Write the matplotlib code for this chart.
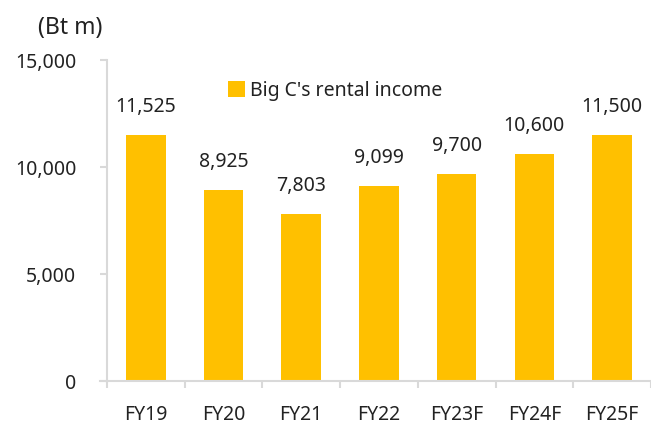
import matplotlib
matplotlib.use("Agg")
from matplotlib import pyplot as plt

categories = ["FY19", "FY20", "FY21", "FY22", "FY23F", "FY24F", "FY25F"]
rental_income = [11525, 8925, 7803, 9099, 9700, 10600, 11500]
value_labels = ["11,525", "8,925", "7,803", "9,099", "9,700", "10,600", "11,500"]
y_ticks = [0, 5000, 10000, 15000]
y_tick_labels = ["0", "5,000", "10,000", "15,000"]

plt.rcParams['font.family'] = ['Noto Sans', 'DejaVu Sans']

bar_color = "#FFC000"
axis_color = "#d9d9d9"
text_color = "#222222"
fs = 14

fig = plt.figure(figsize=(6.51, 4.24), dpi=100)
ax = fig.add_axes([0.1536, 0.101, 0.8464, 0.757])

x = list(range(len(categories)))
ax.bar(x, rental_income, width=0.51, color=bar_color, label="Big C's rental income", zorder=2)

for xi, v, lab in zip(x, rental_income, value_labels):
    ax.annotate(lab, (xi, v), xytext=(0, 13), textcoords="offset points",
                ha="center", va="bottom", fontsize=fs, color=text_color)

ax.set_ylim(0, 15000)
ax.set_xlim(-0.588, 6.36)
ax.set_yticks(y_ticks)
ax.set_yticklabels(y_tick_labels)

# x ticks sit on category boundaries, labels at centres
ax.set_xticks([i - 0.5 for i in range(len(categories) + 1)])
ax.set_xticklabels([])
ax.set_xticks(x, minor=True)
ax.set_xticklabels(categories, minor=True)

for s in ["top", "right"]:
    ax.spines[s].set_visible(False)
ax.spines["left"].set_position(("data", -0.5))
ax.spines["left"].set_color(axis_color)
ax.spines["bottom"].set_color(axis_color)
ax.spines["left"].set_linewidth(1.5)
ax.spines["bottom"].set_linewidth(1.5)

ax.tick_params(axis="y", direction="out", length=5, width=1.5, color=axis_color,
               labelsize=fs, labelcolor=text_color, pad=17)
ax.tick_params(axis="x", which="major", direction="out", length=5, width=1.5, color=axis_color)
ax.tick_params(axis="x", which="minor", length=0, labelsize=fs, labelcolor=text_color, pad=17)

fig.text(0.058, 0.934, "(Bt m)", fontsize=16.5, color=text_color, va="center", ha="left")

ax.legend(loc="upper left", bbox_to_anchor=(0.2, 0.99), frameon=False, fontsize=fs,
          handlelength=0.9, handleheight=0.9, handletextpad=0.25, labelcolor=text_color)

fig.savefig("out.png", dpi=100)
